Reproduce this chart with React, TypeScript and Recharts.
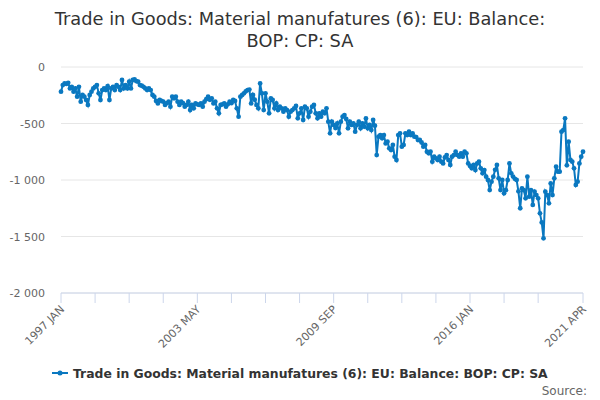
import React from "react";
import { LineChart, Line, XAxis, YAxis, CartesianGrid } from "recharts";

const START_YEAR = 1997;
const MONTHS = ["JAN", "FEB", "MAR", "APR", "MAY", "JUN", "JUL", "AUG", "SEP", "OCT", "NOV", "DEC"];

const balance = [
  -218, -160, -145, -150, -140, -190, -175, -218, -190, -263,
  -175, -307, -248, -263, -292, -336, -248, -218, -190, -175,
  -160, -233, -292, -204, -190, -204, -170, -292, -190, -175,
  -204, -160, -175, -204, -115, -190, -160, -190, -130, -190,
  -115, -110, -125, -130, -160, -165, -175, -190, -204, -190,
  -204, -248, -263, -300, -322, -292, -300, -307, -336, -320,
  -307, -351, -263, -277, -263, -307, -336, -307, -320, -351,
  -336, -307, -381, -336, -366, -322, -330, -336, -322, -351,
  -307, -285, -263, -290, -277, -322, -307, -366, -410, -336,
  -330, -322, -351, -330, -307, -320, -292, -300, -366, -440,
  -263, -248, -233, -215, -204, -200, -322, -248, -290, -336,
  -366, -145, -233, -381, -233, -307, -410, -277, -292, -366,
  -322, -381, -351, -366, -395, -366, -381, -440, -395, -381,
  -366, -345, -454, -410, -366, -469, -351, -366, -440, -395,
  -351, -336, -410, -454, -410, -440, -395, -410, -366, -484,
  -587, -484, -513, -540, -499, -587, -484, -440, -425, -460,
  -543, -484, -513, -499, -572, -513, -484, -543, -499, -528,
  -455, -543, -513, -558, -469, -520, -779, -617, -602, -631,
  -602, -676, -661, -720, -735, -690, -794, -823, -602, -587,
  -705, -690, -587, -602, -572, -602, -587, -617, -620, -646,
  -646, -668, -705, -690, -750, -764, -750, -838, -794, -808,
  -823, -794, -838, -853, -800, -779, -823, -867, -794, -779,
  -750, -779, -794, -764, -794, -750, -764, -853, -875, -897,
  -867, -912, -853, -838, -897, -941, -912, -971, -1000, -1089,
  -1015, -971, -910, -867, -985, -1089, -1000, -1118, -1090, -1000,
  -853, -941, -970, -990, -1000, -1100, -1250, -1074, -1089, -1162,
  -971, -1148, -1089, -1221, -1103, -1133, -1162, -1295, -1375, -1516,
  -1103, -1133, -1206, -1030, -1133, -985, -882, -926, -926, -572,
  -558, -454, -870, -661, -823, -838, -897, -1044, -1015, -853,
  -794, -750,
];

const categories = balance.map(
  (_, i) => `${START_YEAR + Math.floor(i / 12)} ${MONTHS[i % 12]}`
);

const xTickIndex = [0, 19, 38, 57, 76, 95, 114, 133, 152, 171, 190, 209, 228, 247, 266, 291];
const xLabelIndex = [0, 76, 152, 228, 291];
const yTicks = [0, -500, -1000, -1500, -2000];

const SERIES_NAME = "Trade in Goods: Material manufatures (6): EU: Balance: BOP: CP: SA";
const TITLE_1 = "Trade in Goods: Material manufatures (6): EU: Balance:";
const TITLE_2 = "BOP: CP: SA";

const data = balance.map((v, i) => ({ i, name: categories[i], v }));

const BLUE = "#0a78c0";
const FONT = "'DejaVu Sans', sans-serif";

const fmtY = (v: number) => {
  const s = Math.abs(v).toString().replace(/\B(?=(\d{3})+(?!\d))/g, " ");
  return v < 0 ? `-${s}` : s;
};

const XTick = (props: any) => {
  const { x, y, payload } = props;
  const idx = payload.value;
  if (!xLabelIndex.includes(idx)) return null;
  const ax = x + 4;
  const ay = y + 5;
  return (
    <text
      x={ax}
      y={ay}
      textAnchor="end"
      fontSize={11}
      fill="#666666"
      fontFamily={FONT}
      transform={`rotate(-45 ${ax} ${ay})`}
    >
      {categories[idx]}
    </text>
  );
};

const YTick = (props: any) => {
  const { y, payload } = props;
  return (
    <text x={45} y={y + 4} textAnchor="end" fontSize={11} fill="#666666" fontFamily={FONT}>
      {fmtY(payload.value)}
    </text>
  );
};

export default function App() {
  return (
    <div style={{ position: "absolute", left: 0, top: 0, width: 600, height: 400, background: "#fff" }}>
      <LineChart
        width={600}
        height={400}
        data={data}
        margin={{ top: 67, right: 17, bottom: 47, left: 11 }}
      >
        <CartesianGrid horizontal vertical={false} stroke="#e6e6e6" />
        <XAxis
          dataKey="i"
          type="number"
          domain={[0, 291]}
          ticks={xTickIndex}
          interval={0}
          height={60}
          axisLine={{ stroke: "#ccd6eb" }}
          tickLine={{ stroke: "#ccd6eb" }}
          tickSize={10}
          tick={<XTick />}
        />
        <YAxis
          type="number"
          domain={[-2000, 0]}
          ticks={yTicks}
          interval={0}
          width={50}
          axisLine={false}
          tickLine={false}
          tick={<YTick />}
        />
        <Line
          type="linear"
          dataKey="v"
          stroke={BLUE}
          strokeWidth={2}
          dot={{ r: 2.4, fill: BLUE, stroke: BLUE, strokeWidth: 0 }}
          isAnimationActive={false}
        />
      </LineChart>
      <svg
        width={600}
        height={400}
        style={{ position: "absolute", left: 0, top: 0, pointerEvents: "none" }}
      >
        <text x={300} y={25} textAnchor="middle" fontSize={17.8} fill="#333333" fontFamily={FONT}>
          {TITLE_1}
        </text>
        <text x={300} y={47} textAnchor="middle" fontSize={17.8} fill="#333333" fontFamily={FONT}>
          {TITLE_2}
        </text>
        <line x1={52} y1={373} x2={68} y2={373} stroke={BLUE} strokeWidth={2} />
        <circle cx={60} cy={373} r={2.5} fill={BLUE} />
        <text x={73} y={377.5} fontSize={12.4} fontWeight="bold" fill="#333333" fontFamily={FONT}>
          {SERIES_NAME}
        </text>
        <text x={587} y={395} textAnchor="end" fontSize={12} fill="#666666" fontFamily={FONT}>
          Source:
        </text>
      </svg>
    </div>
  );
}
